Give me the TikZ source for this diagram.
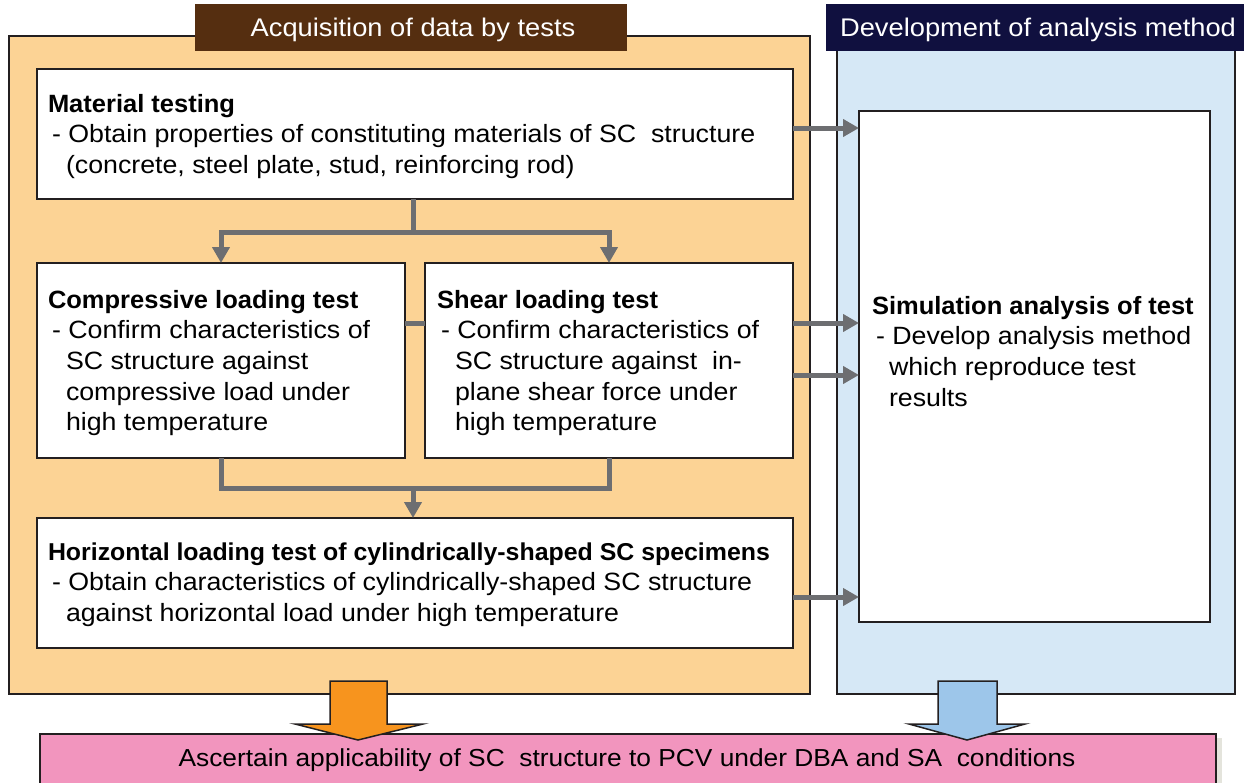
\documentclass[tikz,border=0pt]{standalone}
\usepackage{fontspec}
\setmainfont{Liberation Sans}[UprightFeatures={FakeStretch=1.07}, BoldFeatures={FakeStretch=1.02}]
\usetikzlibrary{arrows.meta,calc}

\definecolor{panelorange}{HTML}{FCD395}
\definecolor{panelblue}{HTML}{D6E8F6}
\definecolor{headbrown}{HTML}{552E10}
\definecolor{headnavy}{HTML}{10103F}
\definecolor{conngray}{HTML}{6D6E71}
\definecolor{edgeblack}{HTML}{231F20}
\definecolor{bigorange}{HTML}{F7941E}
\definecolor{bigblue}{HTML}{9DC6EA}
\definecolor{resultpink}{HTML}{F295BE}
\definecolor{shadowgray}{HTML}{E4E4DC}

\begin{document}
\begin{tikzpicture}[x=1pt,y=-1pt,
  panel/.style={draw=edgeblack, line width=2pt, inner sep=0pt, outer sep=0pt},
  header/.style={inner sep=0pt, outer sep=0pt},
  headtext/.style={text=white, inner sep=0pt, anchor=base, font=\fontsize{25.5}{30}\selectfont},
  stagebox/.style={draw=edgeblack, fill=white, line width=2pt, inner sep=0pt, outer sep=0pt},
  txt/.style={anchor=base west, inner sep=0pt, outer sep=0pt, font=\fontsize{25}{30.7}\selectfont},
  conn/.style={draw=conngray, line width=5pt},
  arr/.style={conn, -{Triangle[length=16pt,width=17pt]}},
  blockarrow/.style={draw=edgeblack, line width=1.5pt, line join=miter}
]
\useasboundingbox (0,0) rectangle (1244,782);

% the two working areas
\node[panel, fill=panelorange, minimum width=801pt, minimum height=658pt] (acq) at (409.5,365) {};
\node[panel, fill=panelblue, minimum width=398pt, minimum height=644pt] (dev) at (1036,372) {};

% their title bars
\node[header, fill=headbrown, minimum width=432pt, minimum height=47pt] (acqhead) at (411,27.5) {};
\node[header, fill=headnavy, minimum width=420pt, minimum height=47pt] (devhead) at (1036,27.5) {};
\node[headtext] (acqlabel) at (413,36) {Acquisition of data by tests};
\node[headtext] (devlabel) at (1038,36) {Development of analysis method};

% test stages
\node[stagebox, minimum width=756pt, minimum height=130pt] (mat) at (415,134) {};
\node[stagebox, minimum width=368pt, minimum height=195pt] (comp) at (221,360.5) {};
\node[stagebox, minimum width=368pt, minimum height=195pt] (shear) at (609,360.5) {};
\node[stagebox, minimum width=756pt, minimum height=130pt] (horiz) at (415,583) {};
\node[stagebox, minimum width=351pt, minimum height=511pt] (sim) at (1034.5,366.5) {};

\node[txt] (mattext) at (48,112) {\parbox[t]{800pt}{%
  \textbf{Material testing}\\
  \hspace*{4pt}- Obtain properties of constituting materials of SC\ \ structure\\
  \hspace*{18pt}(concrete, steel plate, stud, reinforcing rod)}};

\node[txt] (comptext) at (48,308) {\parbox[t]{800pt}{%
  \textbf{Compressive loading test}\\
  \hspace*{4pt}- Confirm characteristics of\\
  \hspace*{18pt}SC structure against\\
  \hspace*{18pt}compressive load under\\
  \hspace*{18pt}high temperature}};

\node[txt] (sheartext) at (437,308) {\parbox[t]{800pt}{%
  \textbf{Shear loading test}\\
  \hspace*{4pt}- Confirm characteristics of\\
  \hspace*{18pt}SC structure against\ \ in-\\
  \hspace*{18pt}plane shear force under\\
  \hspace*{18pt}high temperature}};

\node[txt] (horiztext) at (48,560) {\parbox[t]{800pt}{%
  {\fontsize{24.4}{30.7}\selectfont\textbf{Horizontal loading test of cylindrically-shaped SC specimens}}\\
  \hspace*{4pt}- Obtain characteristics of cylindrically-shaped SC structure\\
  \hspace*{18pt}against horizontal load under high temperature}};

\node[txt] (simtext) at (872,314) {\parbox[t]{800pt}{%
  \textbf{Simulation analysis of test}\\
  \hspace*{4pt}- Develop analysis method\\
  \hspace*{17pt}which reproduce test\\
  \hspace*{17pt}results}};

% flow between the test stages
\coordinate (split) at (413,232);
\coordinate (join) at (413,488);
\coordinate (row1) at (0,128);
\coordinate (row2) at (0,323);
\coordinate (row3) at (0,375);
\coordinate (row4) at (0,597);

\draw[conn] (mat.south -| split) -- (split);
\draw[arr] (split) -| (comp.north);
\draw[arr] (split) -| (shear.north);
\draw[conn] (comp.east |- row2) -- (shear.west |- row2);
\draw[conn] (comp.south) |- (join) -| (shear.south);
\draw[arr] (join) -- (horiz.north -| join);

% data handed over to the analysis
\draw[arr] (mat.east |- row1) -- (sim.west |- row1);
\draw[arr] (shear.east |- row2) -- (sim.west |- row2);
\draw[arr] (shear.east |- row3) -- (sim.west |- row3);
\draw[arr] (horiz.east |- row4) -- (sim.west |- row4);

% final goal
\fill[shadowgray] (44,738) rectangle (1222,790);
\node[panel, fill=resultpink, minimum width=1176pt, minimum height=66pt] (goal) at (628,767) {};
\node[anchor=base, inner sep=0pt, font=\fontsize{24.6}{30}\selectfont] (goaltext) at (627,766)
  {Ascertain applicability of SC\ \ structure to PCV under DBA and SA\ \ conditions};

% block arrows into the goal
\filldraw[blockarrow, fill=bigorange]
  (330,681) -- (387,681) -- (387,724) -- (423,724) -- (358,740) -- (295,724) -- (330,724) -- cycle;
\filldraw[blockarrow, fill=bigblue]
  (938,681) -- (997,681) -- (997,724) -- (1025,724) -- (967,740) -- (909,724) -- (938,724) -- cycle;
\end{tikzpicture}
\end{document}
